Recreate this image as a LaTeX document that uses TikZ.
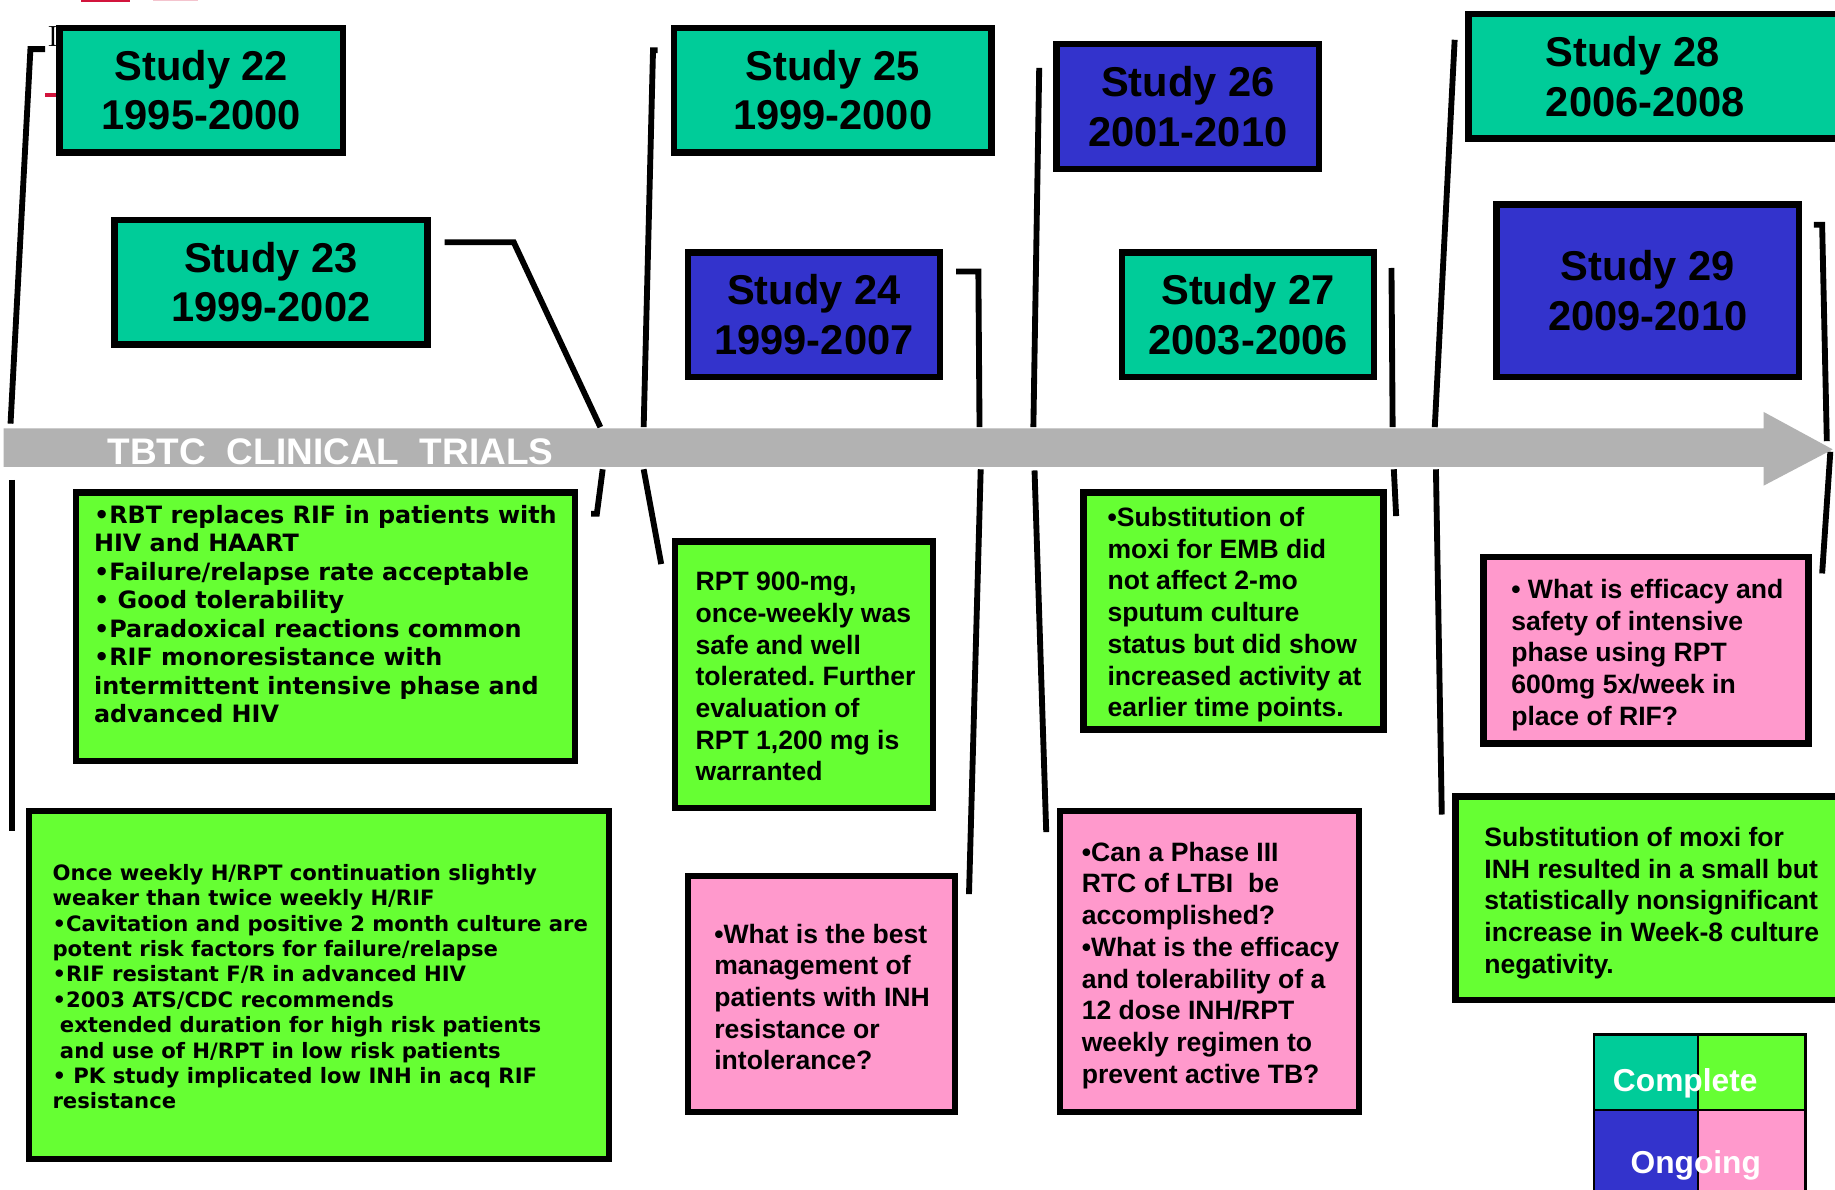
\documentclass[tikz,border=0pt]{standalone}
\usepackage{fontspec}
\newfontfamily\arialf{Liberation Sans}
\newfontfamily\verdf{DejaVu Sans}
\definecolor{tealc}{HTML}{00CC99}
\definecolor{greenc}{HTML}{66FF33}
\definecolor{bluec}{HTML}{3333CC}
\definecolor{pinkc}{HTML}{FF99CC}
\definecolor{barc}{HTML}{B2B2B2}
\definecolor{redc}{HTML}{D2143C}
\frenchspacing
\begin{document}
\begin{tikzpicture}[x=0.5pt,y=-0.5pt,
  box/.style={draw=black,line width=2.75pt,inner sep=0pt,outer sep=0pt},
  cell/.style={draw=black,line width=1.15pt,inner sep=0pt,outer sep=0pt},
  conn/.style={draw=black,line width=2.5pt},
  title/.style={font=\arialf\bfseries\fontsize{17.8pt}{21.25pt}\selectfont,align=center,inner sep=0pt},
  body/.style={font=\arialf\bfseries\fontsize{11.35pt}{13.55pt}\selectfont,align=left,inner sep=0pt,anchor=north west},
  vbodyA/.style={font=\verdf\bfseries\fontsize{10.2pt}{12.2pt}\selectfont,align=left,inner sep=0pt,anchor=north west},
  vbodyB/.style={font=\verdf\bfseries\fontsize{9.05pt}{10.85pt}\selectfont,align=left,inner sep=0pt,anchor=north west},
  legtext/.style={font=\arialf\bfseries\fontsize{13.55pt}{13.55pt}\selectfont,text=white,inner sep=0pt,anchor=base}]
\useasboundingbox (0,0) rectangle (1568,1016);
\fill[white] (0,0) rectangle (1568,1016);

% stray marks
\node[font=\rmfamily\fontsize{12.5pt}{12.5pt}\selectfont,inner sep=0pt,anchor=base] (stray) at (45.3,40) {I};
\coordinate (r1a) at (38.5,81); \coordinate (r1b) at (48.7,81);
\draw[redc,line width=1.5pt] (r1a) -- (r1b);
\coordinate (r2a) at (69,0); \coordinate (r2b) at (111,0);
\draw[redc,line width=2pt] (r2a) -- (r2b);
\coordinate (r3a) at (131,0); \coordinate (r3b) at (169,0);
\draw[redc!25,line width=1pt] (r3a) -- (r3b);

% connector coordinates
\coordinate (a1) at (38.5,42); \coordinate (a2) at (26,42); \coordinate (a3) at (9,362);
\coordinate (a4) at (10,410); \coordinate (a5) at (10,710);
\coordinate (b1) at (380,207); \coordinate (b2) at (439,207); \coordinate (b3) at (513,365);
\coordinate (b4) at (515,401); \coordinate (b5) at (510,439); \coordinate (b6) at (505,439);
\coordinate (d1) at (562,43); \coordinate (d2) at (558,43); \coordinate (d3) at (550,365);
\coordinate (d4) at (550,401); \coordinate (d5) at (565,482);
\coordinate (e1) at (817,232); \coordinate (e2) at (836,232); \coordinate (e3) at (837,365);
\coordinate (e4) at (838,401); \coordinate (e5) at (828,764);
\coordinate (f1) at (888,58); \coordinate (f2) at (883,365);
\coordinate (f3) at (884,402); \coordinate (f4) at (894,711);
\coordinate (g1) at (1189,229); \coordinate (g2) at (1190,365);
\coordinate (g3) at (1191,401); \coordinate (g4) at (1193,441);
\coordinate (h1) at (1243,34); \coordinate (h2) at (1226,365);
\coordinate (h3) at (1227,401); \coordinate (h4) at (1232,696);
\coordinate (k1) at (1550,192); \coordinate (k2) at (1557,192); \coordinate (k3) at (1561,377);
\coordinate (k4) at (1564,386); \coordinate (k5) at (1557,490);

\draw[conn] (a1) -- (a2) -- (a3);
\draw[conn] (a4) -- (a5);
\draw[conn] (b1) -- (b2) -- (b3);
\draw[conn] (b4) -- (b5) -- (b6);
\draw[conn] (d1) -- (d2) -- (d3);
\draw[conn] (d4) -- (d5);
\draw[conn] (e1) -- (e2) -- (e3);
\draw[conn] (e4) -- (e5);
\draw[conn] (f1) -- (f2);
\draw[conn] (f3) -- (f4);
\draw[conn] (g1) -- (g2);
\draw[conn] (g3) -- (g4);
\draw[conn] (h1) -- (h2);
\draw[conn] (h3) -- (h4);
\draw[conn] (k1) -- (k2) -- (k3);
\draw[conn] (k4) -- (k5);

% timeline arrow
\fill[barc] (3,366) -- (1507,366) -- (1507,352) -- (1566,384) -- (1507,415) -- (1507,399) -- (3,399) -- cycle;
\node[font=\arialf\bfseries\fontsize{15.8pt}{15.8pt}\selectfont,text=white,inner sep=0pt,anchor=base west] (bartxt) at (91.6,396.5) {TBTC\ \ CLINICAL\ \ TRIALS};

% study boxes
\node[box,fill=tealc,minimum width=121.25pt,minimum height=53.25pt] (s22) at (172,77) {};
\node[title] (s22t) at (s22.center) {Study 22\\1995-2000};
\node[box,fill=tealc,minimum width=133.75pt,minimum height=53.25pt] (s23) at (231.5,241) {};
\node[title] (s23t) at (s23.center) {Study 23\\1999-2002};
\node[box,fill=tealc,minimum width=135.75pt,minimum height=53.25pt] (s25) at (711.5,77) {};
\node[title] (s25t) at (s25.center) {Study 25\\1999-2000};
\node[box,fill=bluec,minimum width=107.75pt,minimum height=53.25pt] (s24) at (695.5,269) {};
\node[title] (s24t) at (s24.center) {Study 24\\1999-2007};
\node[box,fill=bluec,minimum width=112.25pt,minimum height=53.25pt] (s26) at (1015,91) {};
\node[title] (s26t) at (s26.center) {Study 26\\2001-2010};
\node[box,fill=tealc,minimum width=107.75pt,minimum height=53.25pt] (s27) at (1066.5,269) {};
\node[title] (s27t) at (s27.center) {Study 27\\2003-2006};
\node[box,fill=tealc,minimum width=166.25pt,minimum height=53.25pt] (s28) at (1421,65) {};
\node[title,align=left,anchor=west] (s28t) at (1320.5,65.25) {Study 28\\2006-2008};
\node[box,fill=bluec,minimum width=129.25pt,minimum height=73.75pt] (s29) at (1408,248.5) {};
\node[title] (s29t) at (s29.center) {Study 29\\2009-2010};

% result / question boxes
\node[box,fill=greenc,minimum width=213.25pt,minimum height=114.75pt] (g23) at (278,535.5) {};
\node[vbodyA] (g23t) at (80,431) {•RBT replaces RIF in patients with\\HIV and HAART\\•Failure/relapse rate acceptable\\• Good tolerability\\•Paradoxical reactions common\\•RIF monoresistance with\\intermittent intensive phase and\\advanced HIV};

\node[box,fill=greenc,minimum width=247.75pt,minimum height=148.75pt] (g22) at (272.5,841.5) {};
\node[vbodyB] (g22t) at (44.5,738) {Once weekly H/RPT continuation slightly\\weaker than twice weekly H/RIF\\•Cavitation and positive 2 month culture are\\potent risk factors for failure/relapse\\•RIF resistant F/R in advanced HIV\\•2003 ATS/CDC recommends\\\hspace*{0.35em}extended duration for high risk patients\\\hspace*{0.35em}and use of H/RPT in low risk patients\\• PK study implicated low INH in acq RIF\\resistance};

\node[box,fill=greenc,minimum width=110.25pt,minimum height=113.75pt] (g24) at (687,576.5) {};
\node[body] (g24t) at (594,488.5) {RPT 900-mg,\\once-weekly was\\safe and well\\tolerated. Further\\evaluation of\\RPT 1,200 mg is\\warranted};

\node[box,fill=pinkc,minimum width=114.25pt,minimum height=100.75pt] (p24) at (702,849.5) {};
\node[body] (p24t) at (610,789) {•What is the best\\management of\\patients with INH\\resistance or\\intolerance?};

\node[box,fill=greenc,minimum width=128.25pt,minimum height=101.25pt] (g27) at (1054,522) {};
\node[body] (g27t) at (946,433) {•Substitution of\\moxi for EMB did\\not affect 2-mo\\sputum culture\\status but did show\\increased activity at\\earlier time points.};

\node[box,fill=pinkc,minimum width=127.75pt,minimum height=128.75pt] (p27) at (1033.5,821.5) {};
\node[body] (p27t) at (924,719) {•Can a Phase III\\RTC of LTBI\ \ be\\accomplished?\\•What is the efficacy\\and tolerability of a\\12 dose INH/RPT\\weekly regimen to\\prevent active TB?};

\node[box,fill=pinkc,minimum width=138.75pt,minimum height=79.75pt] (p29) at (1406.5,555.5) {};
\node[body] (p29t) at (1291,494.5) {• What is efficacy and\\safety of intensive\\phase using RPT\\600mg 5x/week in\\place of RIF?};

\node[box,fill=greenc,minimum width=176.75pt,minimum height=86.75pt] (g28) at (1420.5,767.5) {};
\node[body] (g28t) at (1268,706.5) {Substitution of moxi for\\INH resulted in a small but\\statistically nonsignificant\\increase in Week-8 culture\\negativity.};

% legend
\node[cell,fill=tealc,minimum width=44.5pt,minimum height=32.25pt] (lt) at (1406.5,916.25) {};
\node[cell,fill=greenc,minimum width=45.75pt,minimum height=32.25pt] (lg) at (1496.75,916.25) {};
\node[cell,fill=bluec,minimum width=44.5pt,minimum height=40.75pt] (lb) at (1406.5,989.25) {};
\node[cell,fill=pinkc,minimum width=45.75pt,minimum height=40.75pt] (lp) at (1496.75,989.25) {};
\node[legtext] (ltxt1) at (1440,932.8) {Complete};
\node[legtext] (ltxt2) at (1449,1002.6) {Ongoing};
\end{tikzpicture}
\end{document}
